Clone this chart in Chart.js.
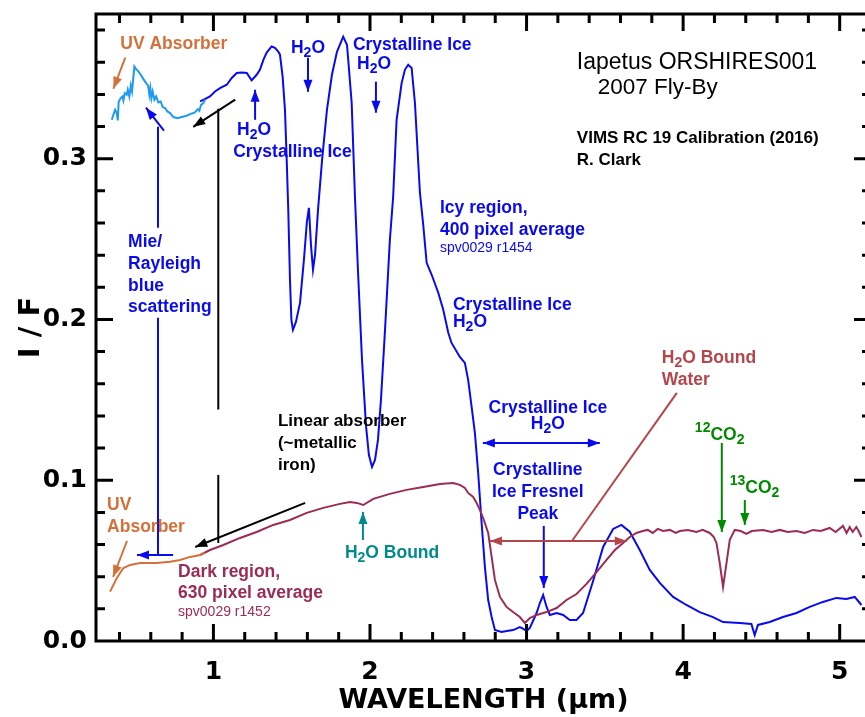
<!DOCTYPE html>
<html>
<head>
<meta charset="utf-8">
<script src="https://cdn.jsdelivr.net/npm/chart.js@4.4.0/dist/chart.umd.min.js"></script>
<style>
html, body { margin: 0; padding: 0; background: #fff; overflow: hidden; }
#wrap { width: 873px; height: 717px; }
</style>
</head>
<body>
<div id="wrap"><canvas id="spectrumChart" width="873" height="717"></canvas></div>
<script>
// Icy region, VIS channel (light blue)
const icyVisWavelength = [0.351,0.361,0.372,0.383,0.389,0.395,0.408,0.419,0.425,0.434,0.446,0.453,0.463,0.472,0.480,0.489,0.495,0.506,0.521,0.536,0.553,0.570,0.583,0.591,0.597,0.604,0.612,0.623,0.634,0.648,0.663,0.676,0.691,0.706,0.723,0.744,0.770,0.797,0.829,0.855,0.882,0.900,0.910,0.921,0.936,0.946];
const icyVisIF = [0.3242,0.3273,0.3304,0.3284,0.3238,0.3356,0.3377,0.3387,0.3362,0.3408,0.3398,0.3429,0.3387,0.3454,0.3418,0.3512,0.3574,0.3557,0.3543,0.3522,0.3495,0.3470,0.3454,0.3398,0.3439,0.3377,0.3418,0.3367,0.3387,0.3350,0.3356,0.3321,0.3315,0.3294,0.3284,0.3259,0.3252,0.3259,0.3267,0.3279,0.3288,0.3308,0.3298,0.3335,0.3346,0.3367];

// Icy region, IR channel (blue)
const icyIrWavelength = [0.915,0.945,0.978,1.010,1.042,1.085,1.117,1.149,1.181,1.213,1.244,1.276,1.297,1.319,1.340,1.372,1.393,1.414,1.425,1.442,1.457,1.468,1.478,1.489,1.498,1.508,1.527,1.553,1.578,1.597,1.610,1.623,1.636,1.649,1.668,1.694,1.725,1.757,1.789,1.829,1.853,1.861,1.883,1.904,1.923,1.949,1.974,1.993,2.013,2.032,2.051,2.070,2.096,2.127,2.148,2.170,2.202,2.223,2.244,2.266,2.287,2.319,2.340,2.362,2.394,2.436,2.468,2.500,2.521,2.574,2.606,2.627,2.649,2.670,2.691,2.713,2.734,2.755,2.777,2.798,2.840,2.874,2.914,2.957,2.980,3.000,3.021,3.064,3.085,3.106,3.128,3.149,3.192,3.234,3.276,3.319,3.361,3.425,3.489,3.553,3.606,3.659,3.723,3.787,3.851,3.936,4.021,4.106,4.191,4.255,4.362,4.436,4.457,4.478,4.553,4.638,4.724,4.809,4.893,4.979,5.043,5.096,5.139];
const icyIrIF = [0.3356,0.3370,0.3387,0.3418,0.3439,0.3460,0.3502,0.3533,0.3536,0.3533,0.3487,0.3522,0.3553,0.3615,0.3660,0.3698,0.3690,0.3666,0.3647,0.3510,0.3304,0.2993,0.2682,0.2246,0.1998,0.1935,0.1985,0.2103,0.2371,0.2607,0.2694,0.2464,0.2309,0.2402,0.2682,0.2993,0.3304,0.3522,0.3665,0.3759,0.3709,0.3615,0.3348,0.2763,0.2309,0.1749,0.1344,0.1157,0.1083,0.1126,0.1251,0.1500,0.1935,0.2495,0.2763,0.3242,0.3470,0.3553,0.3584,0.3564,0.3348,0.2788,0.2589,0.2352,0.2278,0.2166,0.2060,0.1917,0.1854,0.1767,0.1730,0.1624,0.1458,0.1294,0.1045,0.0734,0.0460,0.0255,0.0149,0.0068,0.0056,0.0062,0.0068,0.0087,0.0075,0.0062,0.0081,0.0174,0.0236,0.0286,0.0212,0.0162,0.0174,0.0162,0.0131,0.0131,0.0174,0.0373,0.0585,0.0697,0.0722,0.0680,0.0566,0.0442,0.0361,0.0274,0.0224,0.0180,0.0149,0.0118,0.0112,0.0106,0.0037,0.0100,0.0118,0.0149,0.0174,0.0212,0.0243,0.0268,0.0261,0.0274,0.0224];

// Dark region, VIS channel (orange)
const darkVisWavelength = [0.340,0.383,0.425,0.468,0.532,0.638,0.723,0.787,0.851,0.915,0.946];
const darkVisIF = [0.0307,0.0392,0.0454,0.0473,0.0485,0.0485,0.0493,0.0504,0.0523,0.0535,0.0548];

// Dark region, IR channel (maroon)
const darkIrWavelength = [0.915,0.978,1.063,1.170,1.276,1.382,1.489,1.596,1.702,1.808,1.872,1.916,1.957,2.021,2.127,2.234,2.340,2.447,2.531,2.574,2.606,2.627,2.659,2.681,2.702,2.723,2.755,2.777,2.798,2.830,2.872,2.914,2.957,2.989,3.021,3.064,3.128,3.192,3.255,3.319,3.383,3.447,3.511,3.564,3.617,3.659,3.702,3.742,3.774,3.806,3.838,3.872,3.915,3.953,3.979,4.030,4.085,4.125,4.170,4.196,4.213,4.234,4.255,4.277,4.298,4.330,4.368,4.404,4.438,4.510,4.566,4.617,4.668,4.724,4.777,4.830,4.879,4.936,4.974,5.021,5.044,5.064,5.083,5.106,5.121,5.139];
const darkIrIF = [0.0535,0.0566,0.0597,0.0641,0.0678,0.0722,0.0753,0.0797,0.0828,0.0853,0.0865,0.0859,0.0846,0.0884,0.0915,0.0940,0.0958,0.0977,0.0983,0.0971,0.0952,0.0921,0.0896,0.0859,0.0815,0.0765,0.0672,0.0523,0.0380,0.0274,0.0212,0.0180,0.0149,0.0112,0.0143,0.0162,0.0180,0.0205,0.0255,0.0292,0.0355,0.0429,0.0504,0.0566,0.0610,0.0647,0.0672,0.0684,0.0691,0.0672,0.0697,0.0684,0.0691,0.0672,0.0684,0.0691,0.0678,0.0691,0.0672,0.0647,0.0610,0.0485,0.0336,0.0485,0.0629,0.0691,0.0684,0.0666,0.0684,0.0691,0.0678,0.0691,0.0678,0.0684,0.0672,0.0691,0.0684,0.0703,0.0678,0.0716,0.0672,0.0709,0.0678,0.0709,0.0684,0.0647];

// Axis ticks
const xMajorTicks = [1, 2, 3, 4, 5];
const xTickLabels = ['1', '2', '3', '4', '5'];
const yMajorTicks = [0, 0.1, 0.2, 0.3];
const yTickLabels = ['0.0', '0.1', '0.2', '0.3'];

const FONT = '"Liberation Sans", Arial, Helvetica, sans-serif';
const AXIS_FONT = '"DejaVu Sans", Verdana, sans-serif';
const BLUE = '#0a0af0';
const LIGHTBLUE = '#1e9af5';
const MAROON = '#9b2c55';
const BROWNRED = '#b4464b';
const ORANGE = '#d4713a';
const TEAL = '#008b8b';
const GREEN = '#008a00';

// annotation texts, placed in data units (wavelength, I/F)
const notes = [
    { t: 'UV Absorber', x: 0.405, y: 0.3715, c: ORANGE },
    { t: 'H{_2}O', x: 1.604, y: 0.3690, c: BLUE, a: 'center' },
    { t: 'Crystalline Ice', x: 1.891, y: 0.3703, c: BLUE },
    { t: 'H{_2}O', x: 1.917, y: 0.3591, c: BLUE },
    { t: 'H{_2}O', x: 1.151, y: 0.3180, c: BLUE },
    { t: 'Crystalline Ice', x: 1.126, y: 0.3043, c: BLUE },
    { t: 'Iapetus ORSHIRES001', x: 3.321, y: 0.3597, c: '#000', w: 'normal', s: 23 },
    { t: '2007 Fly-By', x: 3.455, y: 0.3441, c: '#000', w: 'normal', s: 22.5 },
    { t: 'VIMS RC 19 Calibration (2016)', x: 3.321, y: 0.3124, c: '#000', s: 17 },
    { t: 'R. Clark', x: 3.321, y: 0.2987, c: '#000', s: 17 },
    { t: 'Icy region,', x: 2.447, y: 0.2694, c: BLUE },
    { t: '400 pixel average', x: 2.447, y: 0.2558, c: BLUE },
    { t: 'spv0029 r1454', x: 2.447, y: 0.2446, c: BLUE, w: 'normal', s: 14 },
    { t: 'Crystalline Ice', x: 2.530, y: 0.2091, c: BLUE },
    { t: 'H{_2}O', x: 2.530, y: 0.1985, c: BLUE },
    { t: 'Mie/', x: 0.455, y: 0.2483, c: BLUE },
    { t: 'Rayleigh', x: 0.455, y: 0.2346, c: BLUE },
    { t: 'blue', x: 0.455, y: 0.2209, c: BLUE },
    { t: 'scattering', x: 0.455, y: 0.2078, c: BLUE },
    { t: 'Linear absorber', x: 1.412, y: 0.1369, c: '#000', s: 17 },
    { t: '(~metallic', x: 1.412, y: 0.1232, c: '#000', s: 17 },
    { t: 'iron)', x: 1.412, y: 0.1095, c: '#000', s: 17 },
    { t: 'UV', x: 0.321, y: 0.0846, c: ORANGE },
    { t: 'Absorber', x: 0.321, y: 0.0709, c: ORANGE },
    { t: 'Dark region,', x: 0.774, y: 0.0429, c: MAROON },
    { t: '630 pixel average', x: 0.774, y: 0.0299, c: MAROON },
    { t: 'spv0029 r1452', x: 0.774, y: 0.0180, c: MAROON, w: 'normal', s: 14 },
    { t: 'H{_2}O Bound', x: 1.840, y: 0.0548, c: TEAL },
    { t: 'Crystalline Ice', x: 3.136, y: 0.1450, c: BLUE, a: 'center' },
    { t: 'H{_2}O', x: 3.136, y: 0.1350, c: BLUE, a: 'center' },
    { t: 'Crystalline', x: 3.072, y: 0.1064, c: BLUE, a: 'center' },
    { t: 'Ice Fresnel', x: 3.072, y: 0.0927, c: BLUE, a: 'center' },
    { t: 'Peak', x: 3.072, y: 0.0790, c: BLUE, a: 'center' },
    { t: 'H{_2}O Bound', x: 3.864, y: 0.1761, c: BROWNRED },
    { t: 'Water', x: 3.864, y: 0.1624, c: BROWNRED },
    { t: '{^12}CO{_2}', x: 4.075, y: 0.1282, c: GREEN },
    { t: '{^13}CO{_2}', x: 4.298, y: 0.0952, c: GREEN }
];

// arrows and pointer lines, also in data units; h = heads ('end', 'both', 'none')
const pointers = [
    { p: [0.437, 0.3628, 0.361, 0.3435], c: ORANGE, h: 'end' },
    { p: [1.604, 0.3628, 1.604, 0.3416], c: BLUE, h: 'end' },
    { p: [2.038, 0.3479, 2.038, 0.3286], c: BLUE, h: 'end' },
    { p: [1.266, 0.3242, 1.266, 0.3429], c: BLUE, h: 'end' },
    { p: [0.646, 0.3198, 0.646, 0.2570], c: BLUE, h: 'none' },
    { p: [0.646, 0.2010, 0.646, 0.0535], c: BLUE, h: 'none' },
    { p: [0.684, 0.3174, 0.569, 0.3317], c: BLUE, h: 'end' },
    { p: [0.742, 0.0535, 0.512, 0.0535], c: BLUE, h: 'end' },
    { p: [1.139, 0.3367, 0.871, 0.3198], c: '#000', h: 'end' },
    { p: [1.031, 0.3311, 1.031, 0.1440], c: '#000', h: 'none' },
    { p: [1.031, 0.1033, 1.031, 0.0610], c: '#000', h: 'none' },
    { p: [1.586, 0.0859, 0.884, 0.0585], c: '#000', h: 'end' },
    { p: [0.448, 0.0622, 0.359, 0.0398], c: ORANGE, h: 'end' },
    { p: [1.955, 0.0628, 1.955, 0.0803], c: TEAL, h: 'end' },
    { p: [2.721, 0.1232, 3.468, 0.1232], c: BLUE, h: 'both' },
    { p: [3.110, 0.0716, 3.110, 0.0330], c: BLUE, h: 'end' },
    { p: [3.960, 0.1543, 3.290, 0.0622], c: BROWNRED, h: 'none' },
    { p: [2.766, 0.0622, 3.640, 0.0622], c: BROWNRED, h: 'both' },
    { p: [4.247, 0.1232, 4.247, 0.0678], c: GREEN, h: 'end' },
    { p: [4.394, 0.0877, 4.394, 0.0722], c: GREEN, h: 'end' }
];

function toPoints(xs, ys) {
    const n = Math.min(xs.length, ys.length);
    const pts = [];
    for (let i = 0; i < n; i++) pts.push({ x: xs[i], y: ys[i] });
    return pts;
}

function drawRich(ctx, str, x, y, size, weight, color, align) {
    const parts = [];
    const re = /\{([_^])([^}]*)\}/g;
    let last = 0, m;
    while ((m = re.exec(str))) {
        if (m.index > last) parts.push({ t: str.slice(last, m.index), k: '' });
        parts.push({ t: m[2], k: m[1] });
        last = re.lastIndex;
    }
    if (last < str.length) parts.push({ t: str.slice(last), k: '' });
    const fontFor = k => `${weight} ${k ? Math.round(size * 0.78) : size}px ${FONT}`;
    let total = 0;
    parts.forEach(p => { ctx.font = fontFor(p.k); p.w = ctx.measureText(p.t).width; total += p.w; });
    let cx = align === 'center' ? x - total / 2 : x;
    ctx.fillStyle = color;
    ctx.textAlign = 'left';
    ctx.textBaseline = 'middle';
    parts.forEach(p => {
        ctx.font = fontFor(p.k);
        const dy = p.k === '_' ? size * 0.32 : (p.k === '^' ? -size * 0.38 : 0);
        ctx.fillText(p.t, cx, y + dy);
        cx += p.w;
    });
}

function arrowHead(ctx, xFrom, yFrom, xTo, yTo) {
    const ang = Math.atan2(yTo - yFrom, xTo - xFrom);
    const len = 12, half = 4.5;
    ctx.beginPath();
    ctx.moveTo(xTo, yTo);
    ctx.lineTo(xTo - len * Math.cos(ang) + half * Math.sin(ang), yTo - len * Math.sin(ang) - half * Math.cos(ang));
    ctx.lineTo(xTo - len * Math.cos(ang) - half * Math.sin(ang), yTo - len * Math.sin(ang) + half * Math.cos(ang));
    ctx.closePath();
    ctx.fill();
}

const frameAndNotes = {
    id: 'frameAndNotes',
    afterDraw(chart) {
        const ctx = chart.ctx;
        const xs = chart.scales.x, ys = chart.scales.y;
        const area = chart.chartArea;
        ctx.save();

        // frame
        ctx.strokeStyle = '#000';
        ctx.lineWidth = 3;
        ctx.strokeRect(area.left, area.top, area.right - area.left, area.bottom - area.top);

        // inward ticks on all four sides
        ctx.lineCap = 'butt';
        for (let v = 0.4; v <= xs.max + 1e-6; v += 0.2) {
            const major = Math.abs(v - Math.round(v)) < 1e-6;
            const len = major ? 17 : 9;
            const px = xs.getPixelForValue(v);
            ctx.beginPath();
            ctx.moveTo(px, area.bottom); ctx.lineTo(px, area.bottom - len);
            ctx.moveTo(px, area.top); ctx.lineTo(px, area.top + len);
            ctx.stroke();
        }
        for (let v = 0.02; v <= ys.max + 1e-6; v += 0.02) {
            const major = Math.abs(v * 10 - Math.round(v * 10)) < 1e-6;
            const len = major ? 17 : 9;
            const py = ys.getPixelForValue(v);
            ctx.beginPath();
            ctx.moveTo(area.left, py); ctx.lineTo(area.left + len, py);
            ctx.moveTo(area.right, py); ctx.lineTo(area.right - len, py);
            ctx.stroke();
        }

        // pointer lines and arrows
        ctx.lineWidth = 2;
        pointers.forEach(a => {
            const x1 = xs.getPixelForValue(a.p[0]), y1 = ys.getPixelForValue(a.p[1]);
            const x2 = xs.getPixelForValue(a.p[2]), y2 = ys.getPixelForValue(a.p[3]);
            ctx.strokeStyle = a.c;
            ctx.fillStyle = a.c;
            ctx.beginPath();
            ctx.moveTo(x1, y1); ctx.lineTo(x2, y2);
            ctx.stroke();
            if (a.h === 'end' || a.h === 'both') arrowHead(ctx, x1, y1, x2, y2);
            if (a.h === 'both') arrowHead(ctx, x2, y2, x1, y1);
        });

        // texts
        notes.forEach(n => {
            drawRich(ctx, n.t, xs.getPixelForValue(n.x), ys.getPixelForValue(n.y),
                n.s || 17.5, n.w || 'bold', n.c, n.a || 'left');
        });
        ctx.restore();
    }
};

const ctx = document.getElementById('spectrumChart').getContext('2d');
const chart = new Chart(ctx, {
    type: 'line',
    data: {
        datasets: [
            { label: 'Dark VIS', data: toPoints(darkVisWavelength, darkVisIF), borderColor: ORANGE },
            { label: 'Dark IR', data: toPoints(darkIrWavelength, darkIrIF), borderColor: MAROON },
            { label: 'Icy VIS', data: toPoints(icyVisWavelength, icyVisIF), borderColor: LIGHTBLUE },
            { label: 'Icy IR', data: toPoints(icyIrWavelength, icyIrIF), borderColor: BLUE }
        ]
    },
    options: {
        responsive: false,
        animation: false,
        devicePixelRatio: 1,
        layout: { padding: { top: 14, right: 2, left: 0, bottom: 0 } },
        elements: {
            point: { radius: 0 },
            line: { tension: 0, borderWidth: 2, fill: false }
        },
        plugins: {
            legend: { display: false },
            tooltip: { enabled: false }
        },
        scales: {
            x: {
                type: 'linear',
                min: 0.25,
                max: 5.2,
                afterFit: s => { s.height = 76; s.paddingLeft = 0; s.paddingRight = 0; },
                afterBuildTicks: s => { s.ticks = xMajorTicks.map(v => ({ value: v })); },
                grid: { display: false, drawTicks: false },
                border: { display: false },
                ticks: {
                    autoSkip: false,
                    maxRotation: 0,
                    padding: 16,
                    color: '#000',
                    font: { family: AXIS_FONT, size: 25, weight: 'bold' },
                    callback: (value, index) => xTickLabels[index]
                },
                title: {
                    display: true,
                    text: 'WAVELENGTH (\u00b5m)',
                    color: '#000',
                    padding: { top: 0, bottom: 0 },
                    font: { family: AXIS_FONT, size: 27, weight: 'bold' }
                }
            },
            y: {
                type: 'linear',
                min: 0,
                max: 0.39,
                afterFit: s => { s.width = 96; s.paddingTop = 0; s.paddingBottom = 0; },
                afterBuildTicks: s => { s.ticks = yMajorTicks.map(v => ({ value: v })); },
                grid: { display: false, drawTicks: false },
                border: { display: false },
                ticks: {
                    autoSkip: false,
                    padding: 9,
                    color: '#000',
                    font: { family: AXIS_FONT, size: 25, weight: 'bold' },
                    callback: (value, index) => yTickLabels[index]
                },
                title: {
                    display: true,
                    text: 'I / F',
                    color: '#000',
                    padding: { top: 14, bottom: 0 },
                    font: { family: AXIS_FONT, size: 29, weight: 'bold' }
                }
            }
        }
    },
    plugins: [frameAndNotes]
});
</script>
</body>
</html>
